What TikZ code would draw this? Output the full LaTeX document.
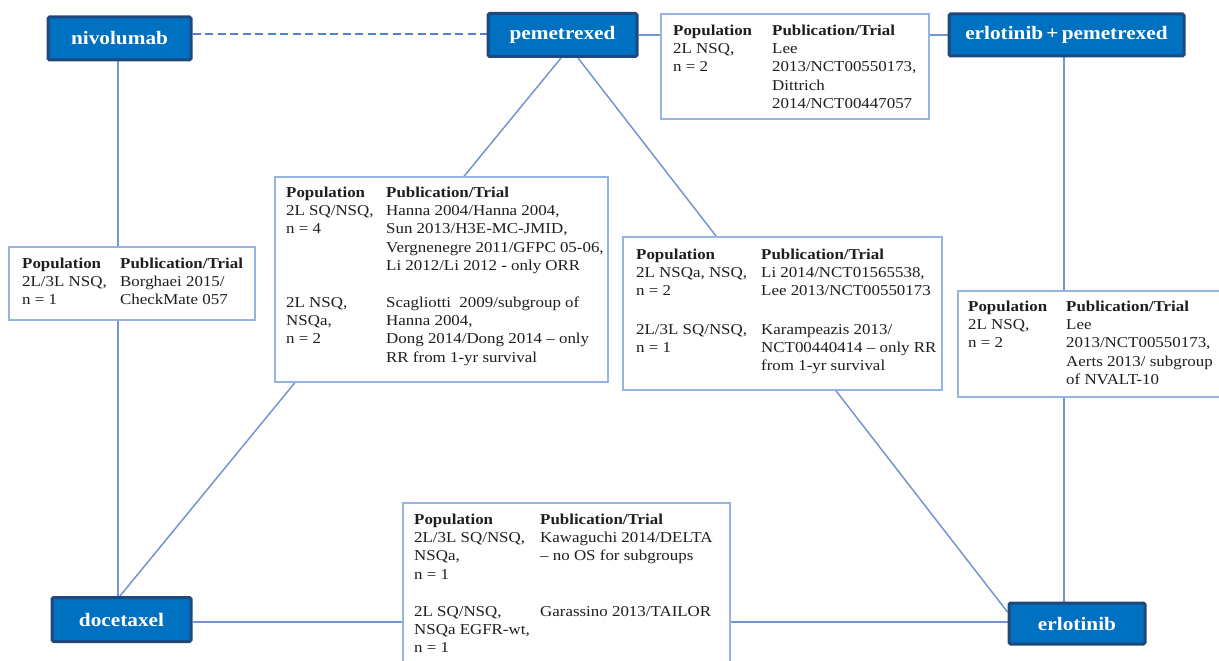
\documentclass[tikz,border=0pt]{standalone}
\usepackage{fontspec}
\setmainfont{Liberation Serif}[FakeStretch=1.12]
\usetikzlibrary{backgrounds}
\definecolor{drugfill}{RGB}{0,112,192}
\definecolor{drugedge}{RGB}{31,73,125}
\definecolor{conn}{RGB}{115,150,208}
\definecolor{dashc}{RGB}{80,130,205}
\definecolor{infob}{RGB}{150,180,224}
\definecolor{txtc}{RGB}{30,30,30}
\begin{document}
\begin{tikzpicture}[x=1pt,y=-1pt,
  drug/.style={draw=drugedge, fill=drugfill, line width=3pt, rounded corners=1.5pt,
    text=white, font=\fontsize{19}{22}\selectfont\bfseries, inner sep=0pt},
  infobox/.style={draw=infob, fill=white, line width=1.8pt, anchor=north west, inner sep=0pt},
  txt/.style={inner sep=0pt, anchor=north west, align=left, text=txtc,
    font=\fontsize{15.1}{18.3}\selectfont},
  link/.style={draw=conn, line width=1.5pt},
  dlink/.style={draw=dashc, line width=1.3pt, dash pattern=on 8pt off 4.5pt}]
\useasboundingbox (0,0) rectangle (1219,661);
\clip (0,0) rectangle (1219,661);

% drug nodes
\node[drug, minimum width=143pt, minimum height=43pt] (nivo) at (119.5,38.5) {nivolumab};
\node[drug, minimum width=149pt, minimum height=43pt] (peme) at (562.5,35) {pemetrexed};
\node[drug, minimum width=235pt, minimum height=42pt] (erlp) at (1066.5,35) {erlotinib\,+\,pemetrexed};
\node[drug, minimum width=139pt, minimum height=44pt] (doce) at (121.5,619.5) {docetaxel};
\node[drug, minimum width=136pt, minimum height=41pt] (erlo) at (1077,623.5) {erlotinib};

% connectors
\begin{pgfonlayer}{background}
\draw[dlink] ([yshift=1pt]nivo.east |- peme.west) -- ([yshift=1pt]peme.west);
\draw[link] ([xshift=-1.5pt]nivo.south) -- ([xshift=-1.5pt]nivo.south |- doce.north);
\draw[link] ([xshift=-1.5pt]peme.south) -- ([xshift=-1.5pt]doce.north);
\draw[link] ([xshift=15.5pt]peme.south) -- ([yshift=11.5pt]erlo.west);
\draw[link] (peme.east) -- (erlp.west);
\draw[link] ([xshift=-2.5pt]erlp.south) -- ([xshift=-2.5pt]erlp.south |- erlo.north);
\draw[link] ([yshift=-2.5pt]doce.east) -- ([yshift=-2.5pt]doce.east -| erlo.west);
\end{pgfonlayer}

% info box 1: pemetrexed - erlotinib+pemetrexed
\node[infobox, minimum width=268pt, minimum height=105pt] (b1) at (660,13) {};
\node[txt] (b1l) at (673,22.2) {\strut\textbf{Population}\\2L NSQ,\\n = 2};
\node[txt] (b1r) at (772,22.2) {\strut\textbf{Publication/Trial}\\Lee\\2013/NCT00550173,\\Dittrich\\2014/NCT00447057};

% info box 2: nivolumab - docetaxel
\node[infobox, minimum width=246pt, minimum height=73pt] (b2) at (8,246) {};
\node[txt] (b2l) at (22,255.2) {\strut\textbf{Population}\\2L/3L NSQ,\\n = 1};
\node[txt] (b2r) at (120,255.2) {\strut\textbf{Publication/Trial}\\Borghaei 2015/\\CheckMate 057};

% info box 3: pemetrexed - docetaxel
\node[infobox, minimum width=333pt, minimum height=205pt] (b3) at (274,176) {};
\node[txt] (b3l1) at (286,184.2) {\strut\textbf{Population}\\2L SQ/NSQ,\\n = 4};
\node[txt] (b3r1) at (386,184.2) {\strut\textbf{Publication/Trial}\\Hanna 2004/Hanna 2004,\\Sun 2013/H3E-MC-JMID,\\Vergnenegre 2011/GFPC 05-06,\\Li 2012/Li 2012 - only ORR};
\node[txt] (b3l2) at (286,294.2) {\strut 2L NSQ,\\NSQa,\\n = 2};
\node[txt] (b3r2) at (386,294.2) {\strut Scagliotti\ \ 2009/subgroup of\\Hanna 2004,\\Dong 2014/Dong 2014 -- only\\RR from 1-yr survival};

% info box 4: pemetrexed - erlotinib
\node[infobox, minimum width=319pt, minimum height=153pt] (b4) at (622,236) {};
\node[txt] (b4l1) at (636,246.2) {\strut\textbf{Population}\\2L NSQa, NSQ,\\n = 2};
\node[txt] (b4r1) at (761,246.2) {\strut\textbf{Publication/Trial}\\Li 2014/NCT01565538,\\Lee 2013/NCT00550173};
\node[txt] (b4l2) at (636,321.2) {\strut 2L/3L SQ/NSQ,\\n = 1};
\node[txt] (b4r2) at (761,321.2) {\strut Karampeazis 2013/\\NCT00440414 -- only RR\\from 1-yr survival};

% info box 5: erlotinib+pemetrexed - erlotinib
\node[infobox, minimum width=280pt, minimum height=106pt] (b5) at (957,290) {};
\node[txt] (b5l) at (968,298.2) {\strut\textbf{Population}\\2L NSQ,\\n = 2};
\node[txt] (b5r) at (1066,298.2) {\strut\textbf{Publication/Trial}\\Lee\\2013/NCT00550173,\\Aerts 2013/ subgroup\\of NVALT-10};

% info box 6: docetaxel - erlotinib
\node[infobox, minimum width=327pt, minimum height=180pt] (b6) at (402,502) {};
\node[txt] (b6l1) at (414,511.2) {\strut\textbf{Population}\\2L/3L SQ/NSQ,\\NSQa,\\n = 1};
\node[txt] (b6r1) at (540,511.2) {\strut\textbf{Publication/Trial}\\Kawaguchi 2014/DELTA\\-- no OS for subgroups};
\node[txt] (b6l2) at (414,603.2) {\strut 2L SQ/NSQ,\\NSQa EGFR-wt,\\n = 1};
\node[txt] (b6r2) at (540,603.2) {\strut Garassino 2013/TAILOR};
\end{tikzpicture}
\end{document}
